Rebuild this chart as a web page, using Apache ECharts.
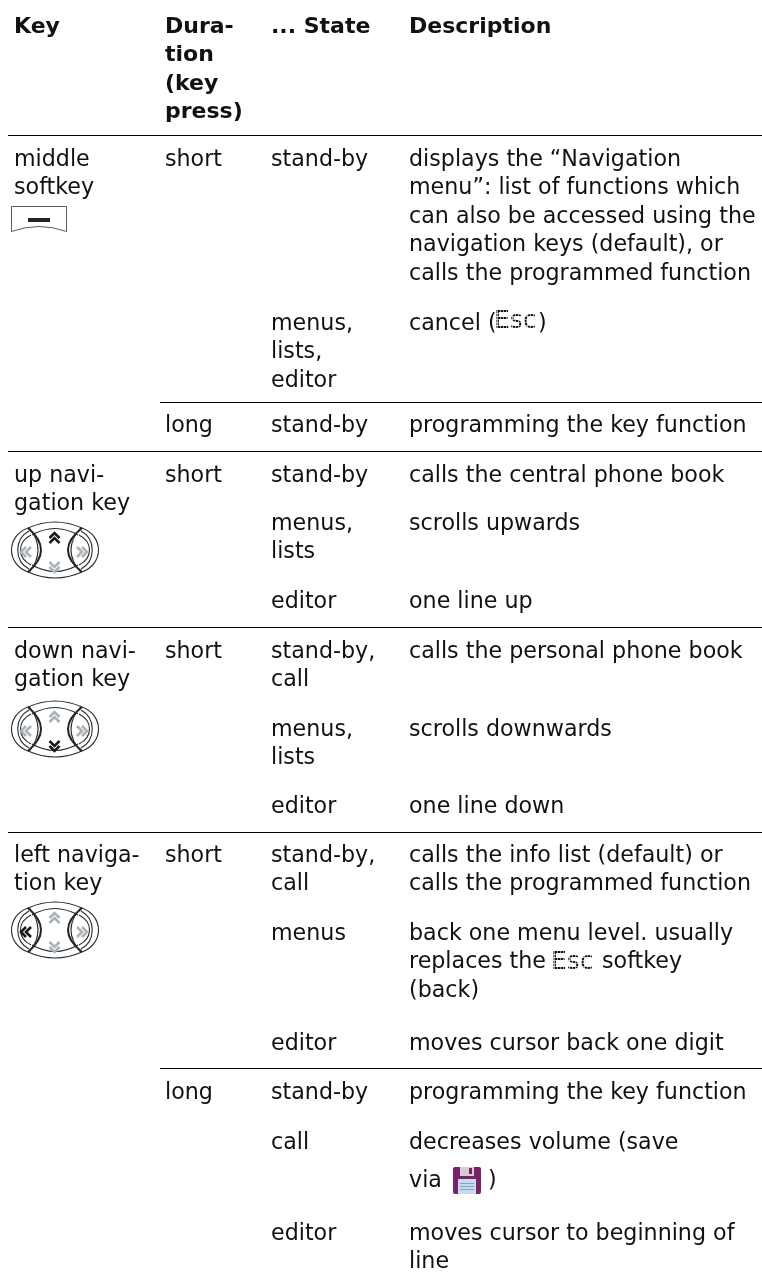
<!DOCTYPE html>
<html><head><meta charset="utf-8">
<style>html,body{margin:0;padding:0;background:#fff}#c{width:762px;height:1282px}</style>
<script src="https://cdn.jsdelivr.net/npm/echarts@6/dist/echarts.min.js"></script>
</head><body><div id="c"></div>
<script>
const headers = ["Key", "Dura-\ntion\n(key\npress)", "... State", "Description"];
const keyNames = ["middle\nsoftkey", "up navi-\ngation key", "down navi-\ngation key", "left naviga-\ntion key"];
const durations = ["short", "long", "short", "short", "short", "long"];
const states = ["stand-by", "menus,\nlists,\neditor", "stand-by", "stand-by", "menus,\nlists", "editor", "stand-by,\ncall", "menus,\nlists", "editor", "stand-by,\ncall", "menus", "editor", "stand-by", "call", "editor"];
const descriptions = [
 "displays the “Navigation\nmenu”: list of functions which\ncan also be accessed using the\nnavigation keys (default), or\ncalls the programmed function",
 "cancel (",
 "programming the key function",
 "calls the central phone book",
 "scrolls upwards",
 "one line up",
 "calls the personal phone book",
 "scrolls downwards",
 "one line down",
 "calls the info list (default) or\ncalls the programmed function",
 "back one menu level. usually\nreplaces the\n(back)",
 "moves cursor back one digit",
 "programming the key function",
 "decreases volume (save",
 "moves cursor to beginning of\nline"];
const inlineWords = ["via", ")", ")", "softkey"];
const softLabel = "Esc";

// layout (pixels), kept apart from the content above
const colX = [14, 165, 271, 409];
const FS = 22.2, FSB = 22, LH = 28.4, FONT = '"DejaVu Sans"', OFF = -13;
const headerC = 26;
const keyC = [159, 475, 651, 855];
const durC = [159, 425, 475, 651, 855, 1092];
const rowC = [159, 323, 425, 475, 523, 601, 651, 729, 806, 855, 933, 1043, 1092, 1142, 1233];
const ruleFull = [135, 451, 627, 832];
const rulePart = [402, 1068];
const softkeyAt = [11, 206];
const navAt = [[11, 522], [11, 701], [11, 902]];
const navActive = ["up", "down", "left"];
const escAt = [[495, 311], [552, 952]];
const inlineAt = [[409, 1180], [488, 1180], [538, 323], [602, 961.5]];
const saveAt = [453, 1167];

const INK = '#111';
function txt(x, c, s, bold) {
  return {type:'text', x, y:c-LH/2+OFF+14.2, silent:true, style:{text:s, x:0, y:0, fill:INK, font:(bold?'bold '+FSB:FS)+'px '+FONT, lineHeight:LH, verticalAlign:'top'}};
}
function rule(x1, y) {
  return {type:'rect', shape:{x:x1, y:y, width:762-x1, height:1}, style:{fill:'#000'}, silent:true};
}
function q(a, m, b, st) {
  return {type:'bezierCurve', shape:{x1:a[0], y1:a[1], x2:b[0], y2:b[1], cpx1:2*m[0]-(a[0]+b[0])/2, cpy1:2*m[1]-(a[1]+b[1])/2}, style:Object.assign({fill:null}, st)};
}
function c(a, p1, p2, b, st) {
  return {type:'bezierCurve', shape:{x1:a[0], y1:a[1], x2:b[0], y2:b[1], cpx1:p1[0], cpy1:p1[1], cpx2:p2[0], cpy2:p2[1]}, style:Object.assign({fill:null}, st)};
}
function softkey(x, y) {
  const s = {stroke:'#333', lineWidth:0.8, fill:null};
  return {type:'group', x, y, children:[
    {type:'polyline', shape:{points:[[0.5,25.5],[0.5,0.5],[55.5,0.5],[55.5,25.5]]}, style:s},
    q([0.5,25.5],[28,20.5],[55.5,25.5],s),
    {type:'rect', shape:{x:17, y:12, width:22, height:4}, style:{fill:'#222'}}
  ]};
}
function chev(cx, cy, dir, active) {
  const col = active ? '#1a1a1a' : '#aab2ba';
  const sets = {up:[[[-5,0],[0,-5],[5,0]],[[-5,5],[0,0],[5,5]]], down:[[[-5,-5],[0,0],[5,-5]],[[-5,0],[0,5],[5,0]]],
    left:[[[0,-5],[-5,0],[0,5]],[[5,-5],[0,0],[5,5]]], right:[[[-5,-5],[0,0],[-5,5]],[[0,-5],[5,0],[0,5]]]}[dir];
  return {type:'group', x:cx, y:cy, children:sets.map(p=>({type:'polyline', shape:{points:p}, style:{stroke:col, lineWidth:2.6, fill:null}}))};
}
function nav(x, y, active) {
  const s = {stroke:'#2a2a2a', lineWidth:1.1};
  const h = {stroke:'#222', lineWidth:2};
  return {type:'group', x, y, children:[
    q([17,6],[44,0],[71,6],s), q([21,13],[44,6.5],[67,13],s),
    q([17,50],[44,56],[71,50],s), q([21,43],[44,49.5],[67,43],s),
    c([17,6],[-5,14],[-5,42],[17,50],s), c([71,6],[93,14],[93,42],[71,50],s),
    c([18,9],[3,17],[3,39],[18,47],s), c([70,9],[85,17],[85,39],[70,47],s),
    c([20,13],[6,20],[6,36],[20,43],s), c([68,13],[82,20],[82,36],[68,43],s),
    q([17,6],[30,28],[17,50],h), q([71,6],[57,28],[71,50],h),
    q([18.5,6],[27,28],[18.5,50],s), q([69.5,6],[60,28],[69.5,50],s),
    chev(43.5,16,'up',active==='up'), chev(43.5,45,'down',active==='down'),
    chev(15,30,'left',active==='left'), chev(71,30,'right',active==='right')
  ]};
}
function esc(x, y) {
  const kids = [{type:'text', x:-1, y:-2, style:{text:softLabel, x:0, y:0, fill:'#111', font:'25px "DejaVu Sans"', verticalAlign:'top'}}];
  for (let i=2;i<22;i+=3) kids.push({type:'rect', shape:{x:-1,y:i,width:44,height:1}, style:{fill:'rgba(255,255,255,0.6)'}});
  for (let i=2;i<44;i+=3) kids.push({type:'rect', shape:{x:i,y:-1,width:1,height:23}, style:{fill:'rgba(255,255,255,0.6)'}});
  return {type:'group', x, y, children:kids};
}
function save(x, y) {
  return {type:'group', x, y, children:[
    {type:'rect', shape:{x:0, y:0, width:28, height:27, r:2}, style:{fill:'#7b2168'}},
    {type:'rect', shape:{x:7, y:0, width:14, height:9}, style:{fill:'#d3cfd6'}},
    {type:'rect', shape:{x:16, y:1, width:3, height:6}, style:{fill:'#7b2168'}},
    {type:'rect', shape:{x:5, y:12, width:18, height:15}, style:{fill:'#c4dcf0'}},
    {type:'rect', shape:{x:7, y:16, width:14, height:1}, style:{fill:'#8aa2b8'}},
    {type:'rect', shape:{x:7, y:19, width:14, height:1}, style:{fill:'#8aa2b8'}},
    {type:'rect', shape:{x:7, y:22, width:14, height:1}, style:{fill:'#8aa2b8'}}
  ]};
}
const els = [];
headers.forEach((h,i)=>els.push(txt(colX[i], headerC, h, true)));
keyNames.forEach((t,i)=>els.push(txt(colX[0], keyC[i], t)));
durations.forEach((t,i)=>els.push(txt(colX[1], durC[i], t)));
states.forEach((t,i)=>els.push(txt(colX[2], rowC[i], t)));
descriptions.forEach((t,i)=>els.push(txt(colX[3], rowC[i], t)));
inlineWords.forEach((t,i)=>els.push(txt(inlineAt[i][0], inlineAt[i][1], t)));
ruleFull.forEach(y=>els.push(rule(8,y)));
rulePart.forEach(y=>els.push(rule(160,y)));
els.push(save(saveAt[0], saveAt[1]));
els.push(softkey(softkeyAt[0], softkeyAt[1]));
navAt.forEach((p,i)=>els.push(nav(p[0],p[1],navActive[i])));
escAt.forEach(p=>els.push(esc(p[0],p[1])));
const chart = echarts.init(document.getElementById('c'), null, {renderer:'canvas'});
chart.setOption({animation:false, backgroundColor:'#fff', graphic:{elements:els}});
</script></body></html>
